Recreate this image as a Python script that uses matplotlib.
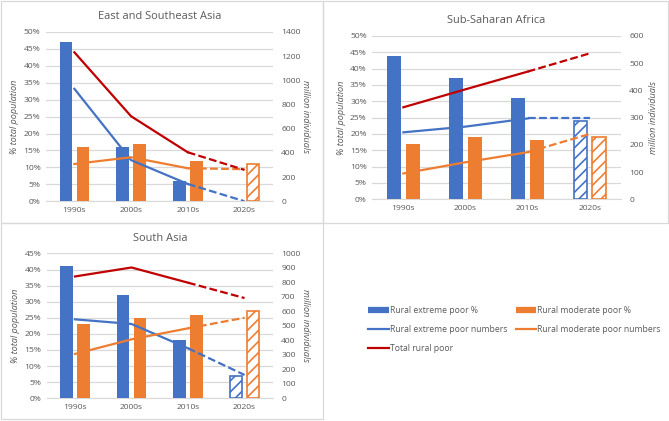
import matplotlib.pyplot as plt
from matplotlib.lines import Line2D
from matplotlib.patches import Rectangle
import numpy as np

decades = ["1990s", "2000s", "2010s", "2020s"]

# East and Southeast Asia
esa_ext_pct = [47, 16, 6, 0]
esa_mod_pct = [16, 17, 12, 11]
esa_ext_num = [930, 340, 143, 0]
esa_mod_num = [308, 364, 273, 265]
esa_total = [1232, 703, 405, 259]

# Sub-Saharan Africa
ssa_ext_pct = [44, 37, 31, 24]
ssa_mod_pct = [17, 19, 18, 19]
ssa_ext_num = [246, 267, 297, 297]
ssa_mod_num = [95, 136, 173, 240]
ssa_total = [338, 404, 469, 536]

# South Asia
sa_ext_pct = [41, 32, 18, 7]
sa_mod_pct = [23, 25, 26, 27]
sa_ext_num = [545, 513, 345, 161]
sa_mod_num = [306, 407, 483, 556]
sa_total = [841, 903, 798, 692]

BLUE = "#4472C4"
ORANGE = "#ED7D31"
RED = "#C00000"
GRID = "#D9D9D9"
TXT = "#595959"

plt.rcParams['font.family'] = ['Open Sans', 'DejaVu Sans']
plt.rcParams['hatch.linewidth'] = 1.2

fig = plt.figure(figsize=(6.69, 4.21), dpi=100)

# panel frames (pixels)
W, H = 669, 421
for x0, y0, x1, y1 in [(1, 1, 322.7, 222.7), (322.7, 1, 668, 222.7), (1, 222.7, 322.7, 419)]:
    fig.add_artist(Rectangle((x0 / W, 1 - y1 / H), (x1 - x0) / W, (y1 - y0) / H,
                             transform=fig.transFigure, fill=False,
                             edgecolor=GRID, lw=0.9))


def panel(rect, title, ext_pct, mod_pct, ext_num, mod_num, total,
          pmax, pstep, nmax, nstep, rlab_rot):
    ax = fig.add_axes(rect)
    x = np.arange(len(decades))
    w = 0.22
    off = 0.15
    # solid bars for first three decades, hatched for 2020s
    ax.bar(x[:3] - off, ext_pct[:3], w, color=BLUE, zorder=3)
    ax.bar(x[:3] + off, mod_pct[:3], w, color=ORANGE, zorder=3)
    if ext_pct[3] > 0:
        ax.bar(x[3] - off, ext_pct[3], w, facecolor="white", edgecolor=BLUE,
               hatch="///", lw=1.2, zorder=3)
    ax.bar(x[3] + off, mod_pct[3], w, facecolor="white", edgecolor=ORANGE,
           hatch="///", lw=1.2, zorder=3)
    ax.set_xlim(-0.5, 3.5)
    ax.set_ylim(0, pmax)
    ax.set_yticks(np.arange(0, pmax + 0.1, pstep))
    ax.set_yticklabels([f"{int(v)}%" for v in np.arange(0, pmax + 0.1, pstep)])
    ax.set_xticks(x)
    ax.set_xticklabels(decades)
    ax.grid(axis="y", color=GRID, lw=0.9, zorder=0)
    ax.set_axisbelow(True)
    for s in ["top", "right", "left"]:
        ax.spines[s].set_visible(False)
    ax.spines["bottom"].set_color(GRID)
    ax.tick_params(length=0, labelsize=6.1, colors=TXT, pad=4)
    ax.set_ylabel("% total population", fontsize=6.6, color=TXT,
                  style="italic", labelpad=3)
    ax.set_title(title, fontsize=7.9, color=TXT, pad=9)

    ax2 = ax.twinx()
    ax2.set_ylim(0, nmax)
    ax2.set_yticks(np.arange(0, nmax + 1, nstep))
    for s in ax2.spines.values():
        s.set_visible(False)
    ax2.tick_params(length=0, labelsize=6.1, colors=TXT, pad=6)
    ax2.set_ylabel("million individuals", fontsize=6.6, color=TXT,
                   style="italic", rotation=rlab_rot,
                   labelpad=7 if rlab_rot == -90 else 4)
    for vals, c in [(ext_num, BLUE), (mod_num, ORANGE), (total, RED)]:
        ax2.plot(x[:3], vals[:3], color=c, lw=1.6, zorder=4)
        ax2.plot(x[2:], vals[2:], color=c, lw=1.6, ls=(0, (3.5, 1.5)), zorder=4)
    return ax


panel([0.0688, 0.522, 0.339, 0.402], "East and Southeast Asia",
      esa_ext_pct, esa_mod_pct, esa_ext_num, esa_mod_num, esa_total,
      50, 5, 1400, 200, -90)
panel([0.5565, 0.5266, 0.3715, 0.388], "Sub-Saharan Africa",
      ssa_ext_pct, ssa_mod_pct, ssa_ext_num, ssa_mod_num, ssa_total,
      50, 5, 600, 100, 90)
panel([0.0698, 0.054, 0.338, 0.344], "South Asia",
      sa_ext_pct, sa_mod_pct, sa_ext_num, sa_mod_num, sa_total,
      45, 5, 1000, 100, -90)

handles = [
    Line2D([], [], color=BLUE, lw=4.5, solid_capstyle="butt"),
    Line2D([], [], color=BLUE, lw=1.6),
    Line2D([], [], color=RED, lw=1.6),
    Line2D([], [], color=ORANGE, lw=4.5, solid_capstyle="butt"),
    Line2D([], [], color=ORANGE, lw=1.6),
]
labels = ["Rural extreme poor %", "Rural extreme poor numbers", "Total rural poor",
          "Rural moderate poor %", "Rural moderate poor numbers"]
leg = fig.legend(handles, labels, ncol=2, loc="upper left",
                 bbox_to_anchor=(364 / W, 1 - 302 / H), frameon=False,
                 fontsize=6.2, handlelength=2.4, handletextpad=0.15,
                 columnspacing=0.9, labelspacing=1.15, borderpad=0)
for t in leg.get_texts():
    t.set_color(TXT)

fig.savefig("out.png", dpi=100)
